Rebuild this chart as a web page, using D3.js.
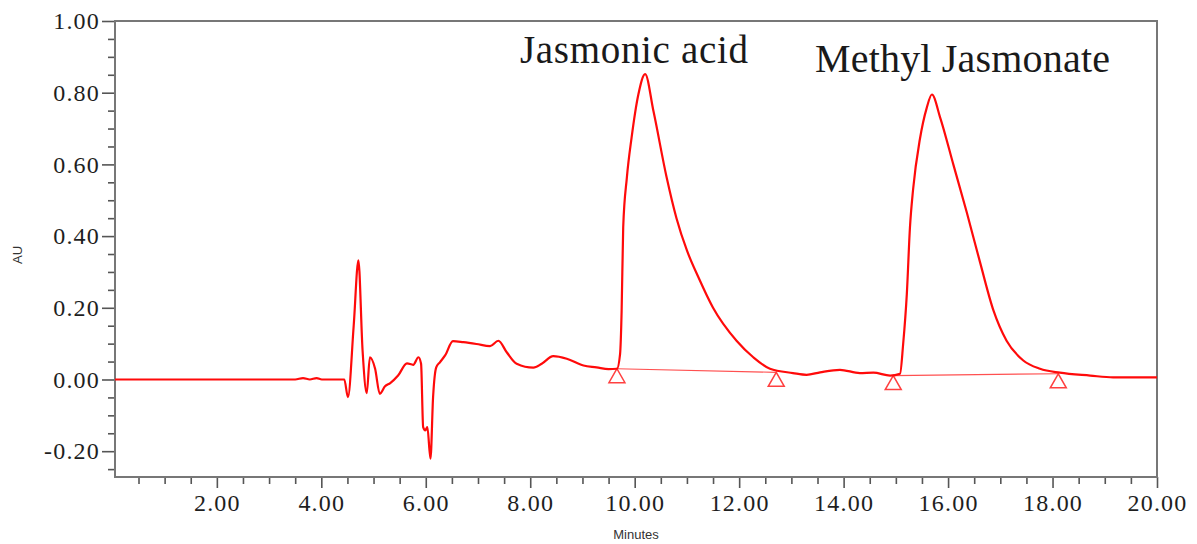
<!DOCTYPE html>
<html>
<head>
<meta charset="utf-8">
<script src="https://cdn.jsdelivr.net/npm/d3@7"></script>
<style>
    body { margin: 0; background: #fff; }
    svg { display: block; }
    .tick text { font-family: "Liberation Serif", "Times New Roman", serif; font-size: 24px; fill: #1e1e1e; letter-spacing: 1.2px; }
    .tick line { stroke: #555; stroke-width: 1.6; }
</style>
</head>
<body>
<div id="chart"></div>
<script>
// retention time (minutes) and absorbance (AU)
const traceTime = [0.05, 3.5, 3.65, 3.78, 3.91, 4.01, 4.44, 4.51, 4.62, 4.71, 4.79, 4.87, 4.93, 5.03, 5.12, 5.22, 5.32,
    5.47, 5.64, 5.76, 5.86, 5.91, 5.95, 5.99, 6.03, 6.09, 6.14, 6.2, 6.27, 6.37, 6.52, 6.72, 6.97, 7.23, 7.39, 7.55,
    7.74, 8.06, 8.22, 8.44, 8.7, 9.02, 9.27, 9.5, 9.66, 9.72, 9.75, 9.78, 9.85, 9.94, 10.07, 10.2, 10.36, 10.61, 10.8,
    11.0, 11.22, 11.5, 11.95, 12.27, 12.59, 13.03, 13.29, 13.55, 13.93, 14.31, 14.57, 14.89, 15.08, 15.14, 15.21,
    15.27, 15.33, 15.46, 15.59, 15.69, 15.85, 16.1, 16.36, 16.61, 16.87, 17.12, 17.44, 17.76, 18.14, 18.72,
    19.16, 20.0];
const traceAU = [0, 0, 0.004, 0, 0.004, 0, 0, -0.049, 0.15, 0.332, 0.081, -0.038, 0.062, 0.03, -0.04, -0.019, -0.01,
    0.011, 0.045, 0.041, 0.062, 0.044, -0.133, -0.142, -0.133, -0.221, -0.049, 0.034, 0.048, 0.067, 0.107, 0.104,
    0.099, 0.093, 0.108, 0.076, 0.044, 0.033, 0.044, 0.065, 0.058, 0.039, 0.034, 0.029, 0.03, 0.071, 0.192, 0.424,
    0.563, 0.674, 0.795, 0.852, 0.748, 0.565, 0.45, 0.36, 0.285, 0.2, 0.108, 0.062, 0.03, 0.018, 0.013, 0.02,
    0.027, 0.018, 0.019, 0.011, 0.016, 0.099, 0.238, 0.424, 0.53, 0.67, 0.757, 0.795, 0.73, 0.6, 0.465,
    0.328, 0.192, 0.108, 0.053, 0.03, 0.019, 0.011, 0.006, 0.006];

// integration baselines: [start, end] per peak
const baseTime = [[9.66, 12.71], [14.95, 18.11]];
const baseAU = [[0.030, 0.020], [0.011, 0.016]];

const peakNames = ['Jasmonic acid', 'Methyl Jasmonate'];
const yTicks = [-0.2, 0, 0.2, 0.4, 0.6, 0.8, 1.0];
const xTicks = [2, 4, 6, 8, 10, 12, 14, 16, 18, 20];

const width = 1197, height = 544;
const plot = { left: 115, right: 1157, top: 21, bottom: 477 };

const x = d3.scaleLinear().domain([0.05, 20]).range([plot.left, plot.right]);
const y = d3.scaleLinear().domain([-0.272, 1.0]).range([plot.bottom, plot.top]);

// plain hyphen for negatives, as on the instrument printout
const fmt = v => d3.format('.2f')(v).replace('\u2212', '-');

const svg = d3.select('#chart').append('svg')
    .attr('width', width)
    .attr('height', height);

// minor ticks first
const yMinor = d3.range(-0.25, 1.0, 0.05).filter(v => !yTicks.some(t => Math.abs(t - v) < 1e-6));
const xMinor = d3.range(0.5, 20, 0.5).filter(v => !xTicks.some(t => Math.abs(t - v) < 1e-6));

svg.append('g')
    .attr('transform', `translate(${plot.left},0)`)
    .call(d3.axisLeft(y).tickValues(yMinor).tickSize(7).tickFormat(''))
    .call(g => g.select('.domain').remove());

svg.append('g')
    .attr('transform', `translate(0,${plot.bottom})`)
    .call(d3.axisBottom(x).tickValues(xMinor).tickSize(7).tickFormat(''))
    .call(g => g.select('.domain').remove());

// major ticks with labels
svg.append('g')
    .attr('transform', `translate(${plot.left},0)`)
    .call(d3.axisLeft(y).tickValues(yTicks).tickSize(13).tickPadding(2).tickFormat(fmt))
    .call(g => g.select('.domain').remove());

svg.append('g')
    .attr('transform', `translate(0,${plot.bottom})`)
    .call(d3.axisBottom(x).tickValues(xTicks).tickSize(11).tickPadding(6).tickFormat(fmt))
    .call(g => g.select('.domain').remove());

// frame
svg.append('rect')
    .attr('x', plot.left)
    .attr('y', plot.top)
    .attr('width', plot.right - plot.left)
    .attr('height', plot.bottom - plot.top)
    .attr('fill', 'none')
    .attr('stroke', '#777')
    .attr('stroke-width', 2);

// integration baselines and markers
baseTime.forEach((seg, i) => {
    svg.append('line')
        .attr('x1', x(seg[0])).attr('y1', y(baseAU[i][0]))
        .attr('x2', x(seg[1])).attr('y2', y(baseAU[i][1]))
        .attr('stroke', '#ff5050')
        .attr('stroke-width', 1.2);

    seg.forEach((t, j) => {
        const px = x(t), py = y(baseAU[i][j]);
        svg.append('path')
            .attr('d', `M${px},${py} L${px - 8},${py + 14} L${px + 8},${py + 14} Z`)
            .attr('fill', 'none')
            .attr('stroke', '#ff4040')
            .attr('stroke-width', 1.5);
    });
});

// chromatogram trace
const line = d3.line()
    .x((d, i) => x(traceTime[i]))
    .y(d => y(d))
    .curve(d3.curveMonotoneX);

svg.append('path')
    .datum(traceAU)
    .attr('d', line)
    .attr('fill', 'none')
    .attr('stroke', '#ff0a0a')
    .attr('stroke-width', 2.2)
    .attr('stroke-linejoin', 'round');

// peak labels
const labelPos = [[520, 63, 228, 39], [815, 72, 295, 40]];
peakNames.forEach((name, i) => {
    svg.append('text')
        .attr('x', labelPos[i][0])
        .attr('y', labelPos[i][1])
        .attr('textLength', labelPos[i][2])
        .attr('lengthAdjust', 'spacing')
        .style('font-family', '"Liberation Serif", "Times New Roman", serif')
        .style('font-size', labelPos[i][3] + 'px')
        .style('fill', '#1a1a1a')
        .text(name);
});

// axis titles
svg.append('text')
    .attr('transform', `translate(22,${(plot.top + plot.bottom) / 2 + 6}) rotate(-90)`)
    .attr('text-anchor', 'middle')
    .style('font-family', '"Liberation Sans", Arial, sans-serif')
    .style('font-size', '13px')
    .style('fill', '#333')
    .text('AU');

svg.append('text')
    .attr('x', 636)
    .attr('y', 539)
    .attr('text-anchor', 'middle')
    .style('font-family', '"Liberation Sans", Arial, sans-serif')
    .style('font-size', '13px')
    .style('fill', '#333')
    .text('Minutes');
</script>
</body>
</html>
